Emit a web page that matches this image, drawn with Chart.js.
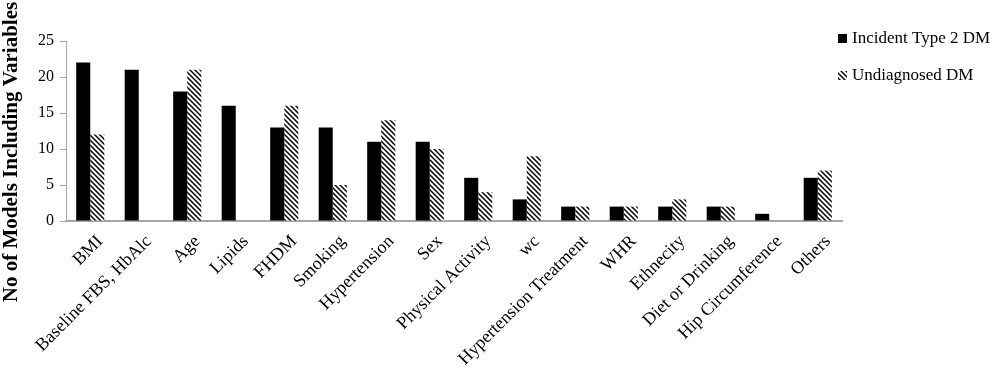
<!DOCTYPE html>
<html lang="en">
<head>
<meta charset="UTF-8">
<title>Models including variables</title>
<script src="https://cdn.jsdelivr.net/npm/chart.js"></script>
<style>
  html, body { margin: 0; padding: 0; background: #fff; }
  #wrap { width: 1000px; height: 382px; position: relative; }
</style>
</head>
<body>
<div id="wrap"><canvas id="myChart"></canvas></div>
<script>
const categories = ['BMI', 'Baseline FBS, HbAlc', 'Age', 'Lipids', 'FHDM', 'Smoking', 'Hypertension', 'Sex',
  'Physical Activity', 'wc', 'Hypertension Treatment', 'WHR', 'Ethnecity', 'Diet or Drinking', 'Hip Circumference', 'Others'];
const incidentT2DM = [22, 21, 18, 16, 13, 13, 11, 11, 6, 3, 2, 2, 2, 2, 1, 6];
const undiagnosedDM = [12, 0, 21, 0, 16, 5, 14, 10, 4, 9, 2, 2, 3, 2, 0, 7];
const yTicks = [0, 5, 10, 15, 20, 25];
const seriesNames = ['Incident Type 2 DM', 'Undiagnosed DM'];
const yTitle = 'No of Models Including Variables';

const serif = "'Liberation Serif', serif";

// diagonal stripes for the second series
function makeHatch() {
  const c = document.createElement('canvas');
  c.width = 5; c.height = 5;
  const g = c.getContext('2d');
  g.fillStyle = '#fff';
  g.fillRect(0, 0, 5, 5);
  g.strokeStyle = '#000';
  g.lineWidth = 1.5;
  g.beginPath();
  g.moveTo(-1, -1); g.lineTo(6, 6);
  g.moveTo(-1, 4); g.lineTo(1, 6);
  g.moveTo(4, -1); g.lineTo(6, 1);
  g.stroke();
  return g.createPattern(c, 'repeat');
}
const hatch = makeHatch();

// y title + legend drawn by hand so they sit where the original has them
const extras = {
  id: 'extras',
  afterDraw(chart) {
    const ctx = chart.ctx;
    ctx.save();
    ctx.fillStyle = '#000';
    ctx.font = "bold 21px " + serif;
    ctx.textAlign = 'center';
    ctx.textBaseline = 'middle';
    ctx.translate(12, 152);
    ctx.rotate(-Math.PI / 2);
    ctx.fillText(yTitle, 0, 0);
    ctx.restore();

    ctx.save();
    ctx.font = "17px " + serif;
    ctx.textBaseline = 'middle';
    const fills = ['#000', hatch];
    const ys = [39, 76];
    for (let i = 0; i < seriesNames.length; i++) {
      ctx.fillStyle = fills[i];
      ctx.fillRect(838, ys[i] - 5, 9, 9);
      ctx.fillStyle = '#000';
      ctx.fillText(seriesNames[i], 852, ys[i]);
    }
    ctx.restore();
  }
};

new Chart(document.getElementById('myChart'), {
  type: 'bar',
  data: {
    labels: categories,
    datasets: [
      { label: seriesNames[0], data: incidentT2DM, backgroundColor: '#000', borderWidth: 0 },
      { label: seriesNames[1], data: undiagnosedDM, backgroundColor: hatch, borderWidth: 0 }
    ]
  },
  options: {
    responsive: true,
    maintainAspectRatio: false,
    animation: false,
    layout: { padding: { left: 0, right: 158, top: 41, bottom: 0 } },
    datasets: { bar: { categoryPercentage: 0.58, barPercentage: 1 } },
    plugins: { legend: { display: false }, tooltip: { enabled: false } },
    scales: {
      x: {
        grid: { display: false },
        border: { color: '#a6a6a6', width: 2 },
        ticks: { color: '#000', font: { family: serif, size: 18 }, minRotation: 45, maxRotation: 45,
          autoSkip: false, padding: 2, labelOffset: 10 },
        afterFit(s) { s.height = 161; }
      },
      y: {
        min: 0, max: 25,
        afterBuildTicks(s) { s.ticks = yTicks.map(v => ({ value: v })); },
        grid: { drawOnChartArea: false, color: '#a6a6a6', tickLength: 6 },
        border: { color: '#a6a6a6', width: 1 },
        ticks: { color: '#000', font: { family: serif, size: 16 }, padding: 6 },
        afterFit(s) { s.width = 66; }
      }
    }
  },
  plugins: [extras]
});
</script>
</body>
</html>
